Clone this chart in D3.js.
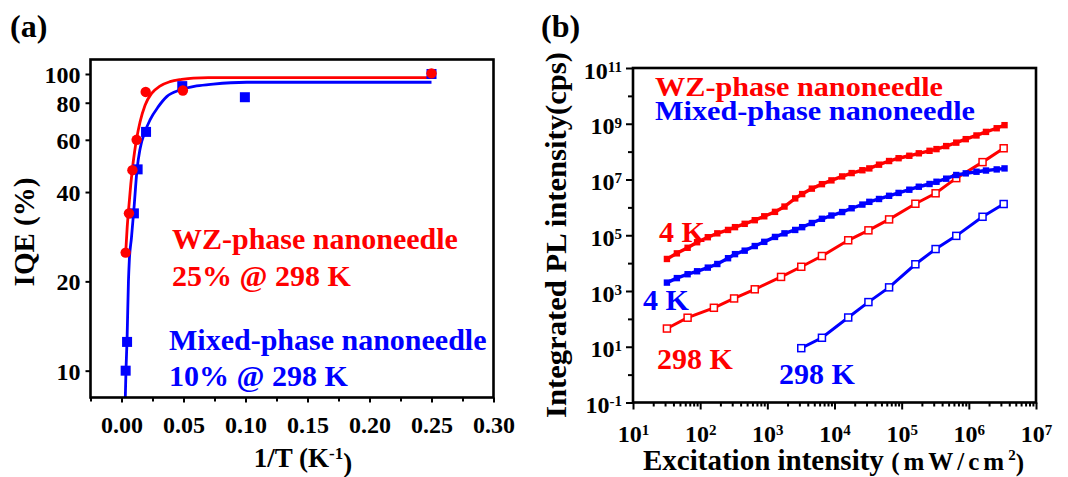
<!DOCTYPE html>
<html>
<head>
<meta charset="utf-8">
<script src="https://cdn.jsdelivr.net/npm/d3@7"></script>
<style>
  html, body { margin: 0; padding: 0; background: #fff; }
  svg { display: block; }
  svg text { font-family: "Liberation Serif", "Times New Roman", serif; font-weight: bold; }
</style>
</head>
<body>
<svg id="chart" width="1068" height="477"></svg>
<script>
// ---- Panel (a): IQE versus inverse temperature ----
const invT_WZ    = [1 / 298, 0.0060, 0.0088, 0.0122, 0.0195, 0.0495, 0.25];
const iqe_WZ     = [25, 33.9, 47.4, 60, 87, 88, 100.5];
const invT_Mixed = [1 / 298, 0.0045, 0.0100, 0.0130, 0.0198, 0.0490, 0.0995, 0.25];
const iqe_Mixed  = [10, 12.5, 33.9, 47.7, 63.8, 91, 83.5, 100];

// Arrhenius-type fit curves
const fitInvT_WZ    = [0.0034, 0.0045, 0.0060, 0.0075, 0.0088, 0.0105, 0.0122, 0.0150, 0.0190, 0.0243, 0.0310, 0.0391, 0.0485, 0.0580, 0.0700, 0.2500];
const fitIqe_WZ     = [25, 30, 36, 42.5, 48, 54.5, 60.5, 69, 78.5, 86, 91, 94.2, 95.9, 96.9, 97.2, 97.2];
const fitInvT_Mixed = [0.0030, 0.0036, 0.0045, 0.0056, 0.0063, 0.0080, 0.0100, 0.0125, 0.0150, 0.0190, 0.0230, 0.0297, 0.0365, 0.0472, 0.0606, 0.0740, 0.1010, 0.2500];
const fitIqe_Mixed  = [7.9, 10, 12.8, 20, 23.5, 28, 35, 47.5, 56, 64, 70, 77.6, 83.9, 88.3, 91.1, 92.5, 93.8, 93.8];

const iqeTicks       = [10, 20, 40, 60, 80, 100];
const invTTicks      = [0, 0.05, 0.10, 0.15, 0.20, 0.25, 0.30];
const invTMinorTicks = [-0.025, 0.025, 0.075, 0.125, 0.175, 0.225, 0.275];

// ---- Panel (b): integrated PL intensity versus excitation intensity ----
const excitation4K = [32, 45, 65, 90, 130, 180, 260, 330, 460, 650, 900, 1300, 1800, 2600, 3300, 4600, 6500, 9000,
  13000, 18000, 26000, 33000, 46000, 65000, 90000, 130000, 180000, 260000, 330000, 460000, 650000, 900000,
  1.3e6, 1.8e6, 2.6e6, 3.4e6];
const pl4K_WZ = [1.41e4, 2.24e4, 3.55e4, 5.62e4, 8.5e4, 1.17e5, 1.55e5, 1.95e5, 2.57e5, 3.47e5, 4.79e5, 6.9e5,
  1.07e6, 2.1e6, 3.0e6, 4.7e6, 6.8e6, 9.3e6, 1.29e7, 1.7e7, 2.15e7, 2.5e7, 3.4e7, 4.6e7, 5.8e7, 7.1e7, 8.7e7,
  1.07e8, 1.23e8, 1.58e8, 2.1e8, 2.8e8, 3.8e8, 5.1e8, 6.9e8, 8.9e8];
const pl4K_Mixed = [2.0e3, 2.9e3, 4.0e3, 5.1e3, 6.9e3, 9.3e3, 1.5e4, 2.1e4, 2.8e4, 4.1e4, 5.8e4, 8.7e4, 1.17e5,
  1.55e5, 1.95e5, 2.75e5, 3.9e5, 5.1e5, 6.8e5, 9.3e5, 1.26e6, 1.58e6, 2.0e6, 2.6e6, 3.3e6, 4.3e6, 5.5e6, 6.9e6,
  8.3e6, 1.07e7, 1.45e7, 1.66e7, 1.9e7, 2.1e7, 2.3e7, 2.5e7];

const excitation298K_WZ = [32, 65, 160, 320, 650, 1600, 3200, 6500, 16000, 32000, 65000, 160000, 320000, 650000, 1.6e6, 3.3e6];
const pl298K_WZ = [45, 110, 250, 540, 1150, 3200, 7400, 1.8e4, 6.6e4, 1.5e5, 3.7e5, 1.35e6, 3.2e6, 1.12e7, 4.2e7, 1.32e8];
const excitation298K_Mixed = [3200, 6500, 16000, 32000, 65000, 160000, 320000, 650000, 1.6e6, 3.3e6];
const pl298K_Mixed = [8.9, 21, 112, 400, 1350, 9100, 3.2e4, 9.5e4, 4.6e5, 1.32e6];

const plDecades         = [-1, 0, 1, 2, 3, 4, 5, 6, 7, 8, 9, 10, 11];
const plLabelDecades    = [-1, 1, 3, 5, 7, 9, 11];
const excitationDecades = [1, 2, 3, 4, 5, 6, 7];

const RED = "#ff0000";
const BLUE = "#0000ff";
const SERIF = "'Liberation Serif', 'Times New Roman', serif";

const svg = d3.select("#chart");

// helper: write "10" with a superscript exponent into an axis label
function powerLabel(textSel, expOf) {
  textSel.each(function (d) {
    const t = d3.select(this);
    t.text(null);
    t.append("tspan").text("10");
    t.append("tspan").attr("dy", "-0.45em").attr("font-size", "15px").text(expOf(d));
  });
}

// strip the default axis styling so the serif bold page font applies
function styleAxis(g) {
  g.attr("font-family", SERIF).attr("font-size", null);
  g.select(".domain").remove();
  g.selectAll("line").attr("stroke", "#000").attr("stroke-width", 2);
  g.selectAll("text").attr("fill", "#000")
    .style("font-family", SERIF).style("font-weight", "bold");
}

// ================= Panel (a) =================
const A = { left: 90.5, right: 493.5, top: 59.5, bottom: 397.5 };
const xA = d3.scaleLinear().domain([-0.025, 0.30]).range([A.left, A.right]);
const yA = d3.scaleLog().domain([8.12, 111.9]).range([A.bottom, A.top]);

const gA = svg.append("g");
gA.append("defs").append("clipPath").attr("id", "clipA")
  .append("rect").attr("x", A.left).attr("y", A.top).attr("width", A.right - A.left).attr("height", A.bottom - A.top);

const axA_minor = gA.append("g").attr("transform", `translate(0,${A.bottom})`)
  .call(d3.axisBottom(xA).tickValues(invTMinorTicks).tickSize(4).tickFormat(""));
const axA_x = gA.append("g").attr("transform", `translate(0,${A.bottom})`)
  .call(d3.axisBottom(xA).tickValues(invTTicks).tickSize(5).tickFormat(d3.format(".2f")));
axA_x.selectAll("text").attr("y", 35).attr("dy", null).attr("font-size", "24px");

const axA_y = gA.append("g").attr("transform", `translate(${A.left},0)`)
  .call(d3.axisLeft(yA).tickValues(iqeTicks).tickSize(5).tickFormat(d3.format("d")));
axA_y.selectAll("text").attr("x", -10).attr("dy", "0.36em").attr("font-size", "24px");

[axA_minor, axA_x, axA_y].forEach(styleAxis);

// fit curves
const lineA = d3.line().x(d => xA(d[0])).y(d => yA(d[1])).curve(d3.curveMonotoneX);
const plotA = gA.append("g").attr("clip-path", "url(#clipA)");
plotA.append("path").datum(d3.zip(fitInvT_Mixed, fitIqe_Mixed))
  .attr("d", lineA).attr("fill", "none").attr("stroke", BLUE).attr("stroke-width", 2.8);
plotA.append("path").datum(d3.zip(fitInvT_WZ, fitIqe_WZ))
  .attr("d", lineA).attr("fill", "none").attr("stroke", RED).attr("stroke-width", 2.8);

// data markers
plotA.selectAll("rect.mixed").data(d3.zip(invT_Mixed, iqe_Mixed)).join("rect")
  .attr("class", "mixed")
  .attr("x", d => xA(d[0]) - 5).attr("y", d => yA(d[1]) - 5)
  .attr("width", 10).attr("height", 10).attr("fill", BLUE);
plotA.selectAll("circle.wz").data(d3.zip(invT_WZ, iqe_WZ)).join("circle")
  .attr("class", "wz")
  .attr("cx", d => xA(d[0])).attr("cy", d => yA(d[1])).attr("r", 5.2).attr("fill", RED);

// frame
gA.append("rect").attr("x", A.left).attr("y", A.top)
  .attr("width", A.right - A.left).attr("height", A.bottom - A.top)
  .attr("fill", "none").attr("stroke", "#000").attr("stroke-width", 2.6);

// titles and annotations
svg.append("text").attr("x", 10).attr("y", 37).attr("font-size", "32px").text("(a)");
svg.append("text").attr("transform", "translate(34,232) rotate(-90)").attr("text-anchor", "middle")
  .attr("font-size", "29px").text("IQE (%)");
const xTitleA = svg.append("text").attr("x", 303).attr("y", 467).attr("text-anchor", "middle").attr("font-size", "27px");
xTitleA.append("tspan").text("1/T (K");
xTitleA.append("tspan").attr("dy", "-0.5em").attr("font-size", "17px").text("-1");
xTitleA.append("tspan").attr("dy", "0.5em").text(")");

svg.append("text").attr("x", 172).attr("y", 249).attr("fill", RED).attr("font-size", "30px").text("WZ-phase nanoneedle");
svg.append("text").attr("x", 172).attr("y", 286).attr("fill", RED).attr("font-size", "30px").text("25% @ 298 K");
svg.append("text").attr("x", 169).attr("y", 350).attr("fill", BLUE).attr("font-size", "30px").text("Mixed-phase nanoneedle");
svg.append("text").attr("x", 169).attr("y", 386).attr("fill", BLUE).attr("font-size", "30px").text("10% @ 298 K");

// ================= Panel (b) =================
const B = { left: 633, right: 1036, top: 68, bottom: 402.5 };
const xB = d3.scaleLog().domain([10, 1e7]).range([B.left, B.right]);
const yB = d3.scaleLog().domain([0.1, 1e11]).range([B.bottom, B.top]);

const gB = svg.append("g");
gB.append("defs").append("clipPath").attr("id", "clipB")
  .append("rect").attr("x", B.left).attr("y", B.top).attr("width", B.right - B.left).attr("height", B.bottom - B.top);

// x axis: minor ticks at 2..9 of every decade, major at decades
const xMinor = [];
excitationDecades.slice(0, -1).forEach(e => { for (let m = 2; m <= 9; m++) xMinor.push(m * Math.pow(10, e)); });
const axB_xm = gB.append("g").attr("transform", `translate(0,${B.bottom})`)
  .call(d3.axisBottom(xB).tickValues(xMinor).tickSize(4).tickFormat(""));
const axB_x = gB.append("g").attr("transform", `translate(0,${B.bottom})`)
  .call(d3.axisBottom(xB).tickValues(excitationDecades.map(e => Math.pow(10, e))).tickSize(7));
axB_x.selectAll("text").attr("y", 39).attr("dy", null).attr("font-size", "24px");
powerLabel(axB_x.selectAll("text"), d => String(Math.round(Math.log10(d))));

// y axis: every decade ticked, odd decades labelled
const axB_ym = gB.append("g").attr("transform", `translate(${B.left},0)`)
  .call(d3.axisLeft(yB).tickValues(plDecades.filter(e => !plLabelDecades.includes(e)).map(e => Math.pow(10, e))).tickSize(5).tickFormat(""));
const axB_y = gB.append("g").attr("transform", `translate(${B.left},0)`)
  .call(d3.axisLeft(yB).tickValues(plLabelDecades.map(e => Math.pow(10, e))).tickSize(7));
axB_y.selectAll("text").attr("x", -11).attr("dy", "0.42em").attr("font-size", "24px");
powerLabel(axB_y.selectAll("text"), d => String(Math.round(Math.log10(d))));

[axB_xm, axB_x, axB_ym, axB_y].forEach(styleAxis);

const lineB = d3.line().x(d => xB(d[0])).y(d => yB(d[1]));
const plotB = gB.append("g").attr("clip-path", "url(#clipB)");

function filledSeries(xs, ys, color) {
  const data = d3.zip(xs, ys);
  plotB.append("path").datum(data).attr("d", lineB).attr("fill", "none")
    .attr("stroke", color).attr("stroke-width", 3.4);
  plotB.append("g").selectAll("rect").data(data).join("rect")
    .attr("x", d => xB(d[0]) - 3.2).attr("y", d => yB(d[1]) - 3.2)
    .attr("width", 6.4).attr("height", 6.4).attr("fill", color);
}
function openSeries(xs, ys, color) {
  const data = d3.zip(xs, ys);
  plotB.append("path").datum(data).attr("d", lineB).attr("fill", "none")
    .attr("stroke", color).attr("stroke-width", 3);
  plotB.append("g").selectAll("rect").data(data).join("rect")
    .attr("x", d => xB(d[0]) - 3.5).attr("y", d => yB(d[1]) - 3.5)
    .attr("width", 7).attr("height", 7).attr("fill", "#fff")
    .attr("stroke", color).attr("stroke-width", 1.5);
}

openSeries(excitation298K_Mixed, pl298K_Mixed, BLUE);
openSeries(excitation298K_WZ, pl298K_WZ, RED);
filledSeries(excitation4K, pl4K_Mixed, BLUE);
filledSeries(excitation4K, pl4K_WZ, RED);

gB.append("rect").attr("x", B.left).attr("y", B.top)
  .attr("width", B.right - B.left).attr("height", B.bottom - B.top)
  .attr("fill", "none").attr("stroke", "#000").attr("stroke-width", 2.6);

svg.append("text").attr("x", 541).attr("y", 37).attr("font-size", "32px").text("(b)");
svg.append("text").attr("transform", "translate(566,235) rotate(-90)").attr("text-anchor", "middle")
  .attr("font-size", "30px").attr("textLength", 366).attr("lengthAdjust", "spacingAndGlyphs")
  .text("Integrated PL intensity(cps)");
const xTitleB = svg.append("text").attr("x", 643).attr("y", 470).attr("font-size", "29px");
xTitleB.append("tspan").text("Excitation intensity ");
xTitleB.append("tspan").attr("font-size", "25px").attr("letter-spacing", "4px").text("(mW/cm");
xTitleB.append("tspan").attr("font-size", "15px").attr("dy", "-0.7em").text("2");
xTitleB.append("tspan").attr("font-size", "25px").attr("dy", "0.45em").text(")");

svg.append("text").attr("x", 655).attr("y", 96).attr("fill", RED).attr("font-size", "28px")
  .attr("textLength", 288).attr("lengthAdjust", "spacingAndGlyphs").text("WZ-phase nanoneedle");
svg.append("text").attr("x", 655).attr("y", 120).attr("fill", BLUE).attr("font-size", "28px")
  .attr("textLength", 320).attr("lengthAdjust", "spacingAndGlyphs").text("Mixed-phase nanoneedle");
svg.append("text").attr("x", 659).attr("y", 242).attr("fill", RED).attr("font-size", "30px").text("4 K");
svg.append("text").attr("x", 643).attr("y", 310).attr("fill", BLUE).attr("font-size", "30px").text("4 K");
svg.append("text").attr("x", 657).attr("y", 369).attr("fill", RED).attr("font-size", "30px").text("298 K");
svg.append("text").attr("x", 779).attr("y", 384).attr("fill", BLUE).attr("font-size", "30px").text("298 K");
</script>
</body>
</html>
